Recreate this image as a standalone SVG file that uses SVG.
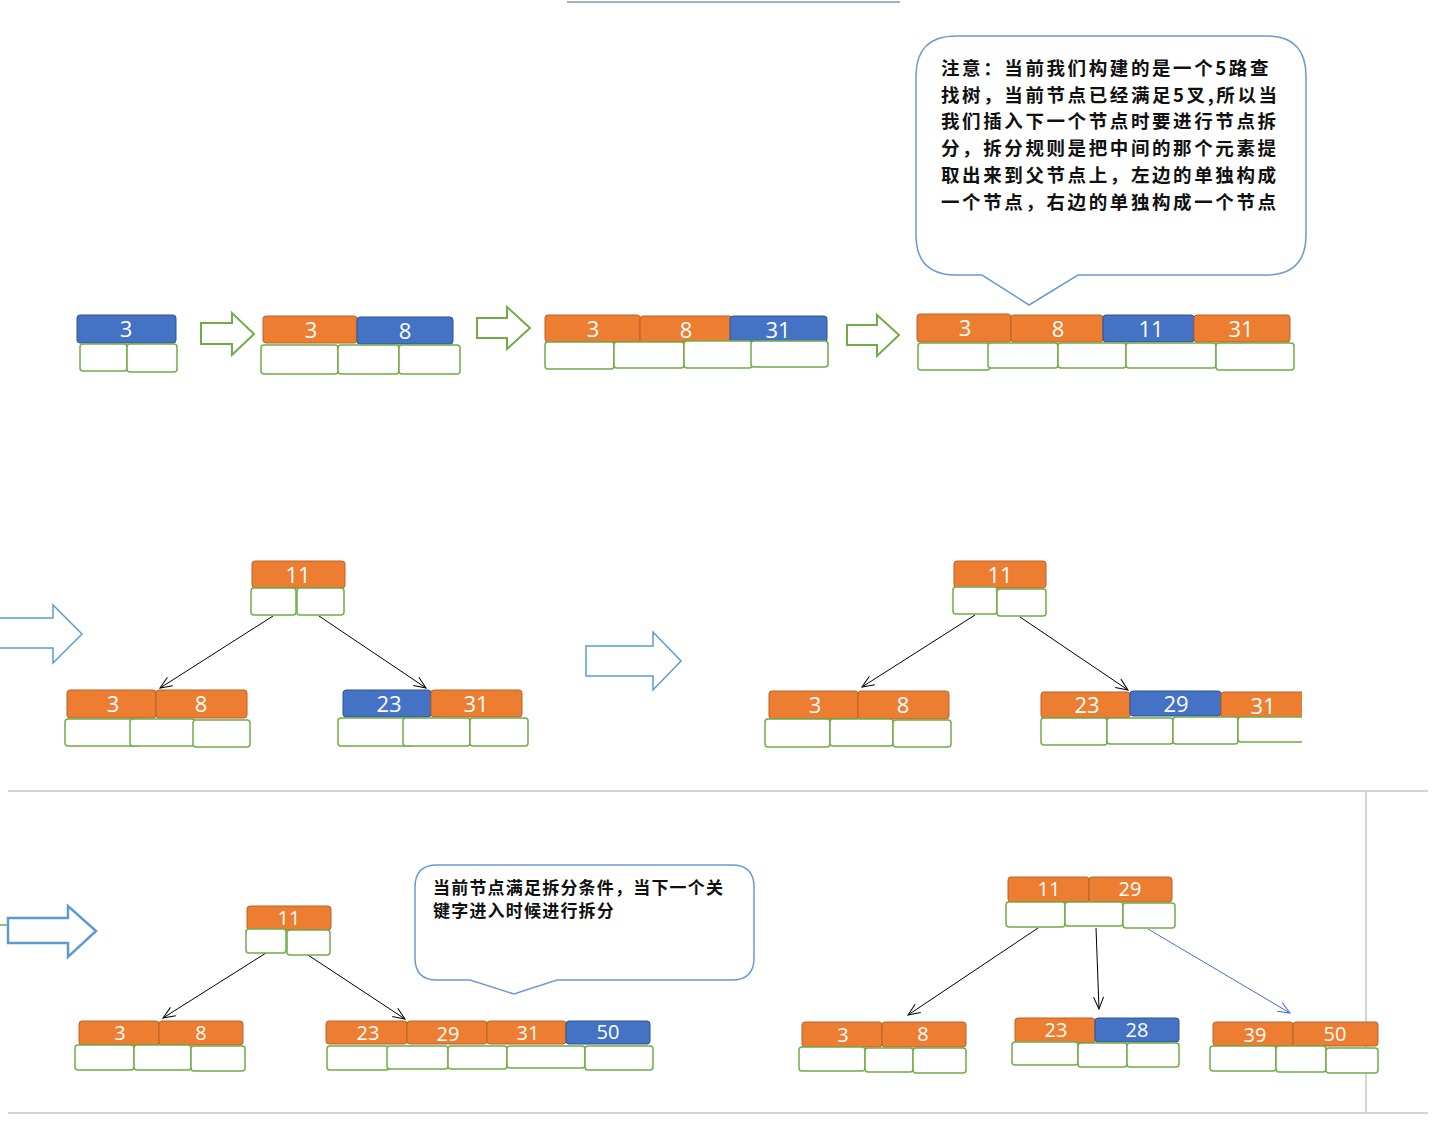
<svg xmlns="http://www.w3.org/2000/svg" width="1436" height="1136" viewBox="0 0 1436 1136">
<defs>
<style>
.ko{fill:#ed7d31;stroke:#b9622b;stroke-width:1}
.kb{fill:#4472c4;stroke:#2f528f;stroke-width:1}
.c{fill:#fff;stroke:#70ad47;stroke-width:1.5}
.t{font-family:"Open Sans","Noto Sans",sans-serif;fill:#fff;text-anchor:middle;font-size:22px}
.t3{font-family:"Open Sans","Noto Sans",sans-serif;fill:#fff;text-anchor:middle;font-size:20px}
.ga{fill:#fff;stroke:#70ad47;stroke-width:2}
.ba{fill:#fff;stroke:#5b9bd5;stroke-width:1.5}
.call{fill:#fff;stroke:#6b9bd2;stroke-width:1.5}
.ct{font-family:"Noto Sans CJK SC","Noto Sans",sans-serif;font-weight:bold;fill:#111}
.sep{stroke:#c6c6c6;stroke-width:1.5;fill:none}
.e{stroke:#000;stroke-width:1;fill:none;marker-end:url(#ab)}
.eb{stroke:#4472c4;stroke-width:1;fill:none;marker-end:url(#au)}
</style>
<marker id="ab" markerUnits="userSpaceOnUse" markerWidth="16" markerHeight="12" refX="13" refY="6" orient="auto" viewBox="0 0 16 12"><path d="M1,1 L13,6 L1,11" fill="none" stroke="#000" stroke-width="1"/></marker>
<marker id="au" markerUnits="userSpaceOnUse" markerWidth="16" markerHeight="12" refX="13" refY="6" orient="auto" viewBox="0 0 16 12"><path d="M1,1 L13,6 L1,11" fill="none" stroke="#4472c4" stroke-width="1"/></marker>
<clipPath id="cut"><rect x="1000" y="680" width="302" height="80"/></clipPath>
</defs>
<rect x="0" y="0" width="1436" height="1136" fill="#fff"/>

<g id="decor">
<line x1="567" y1="2" x2="900" y2="2" stroke="#8497b0" stroke-width="1.5"/>
<line class="sep" x1="8" y1="791" x2="1428" y2="791"/>
<line class="sep" x1="1366" y1="791" x2="1366" y2="1113"/>
<line class="sep" x1="8" y1="1113" x2="1428" y2="1113"/>
</g>

<g id="step-arrows">
<polygon class="ga" points="201,323 232,323 232,313 254,334 232,355 232,344 201,344"/>
<polygon class="ga" points="477,318 507,318 507,307 530,328 507,349 507,338 477,338"/>
<polygon class="ga" points="847,325 877,325 877,315 899,335 877,356 877,345 847,345"/>
<polyline class="ba" points="0,618 53,618 53,605 82,634 53,663 53,648 0,648"/>
<polygon class="ba" points="586,646 653,646 653,632 681,661 653,690 653,676 586,676"/>
<line x1="0" y1="925" x2="8" y2="925" stroke="#70ad47" stroke-width="1.5"/>
<polygon points="8,918 68,918 68,906 96,931 68,957 68,943 8,943" fill="#fff" stroke="#5b9bd5" stroke-width="2.5"/>
</g>

<g id="callout-1">
<path class="call" d="M956,36 H1266 Q1306,36 1306,76 V235 Q1306,275 1266,275 H1078 L1029,305 L982,275 H956 Q916,275 916,235 V76 Q916,36 956,36 Z"/>
<g class="ct" font-size="18.5" letter-spacing="2.6">
<text x="941" y="75">注意：当前我们构建的是一个5路查</text>
<text x="941" y="102">找树，当前节点已经满足5叉,所以当</text>
<text x="941" y="128">我们插入下一个节点时要进行节点拆</text>
<text x="941" y="155">分，拆分规则是把中间的那个元素提</text>
<text x="941" y="182">取出来到父节点上，左边的单独构成</text>
<text x="941" y="209">一个节点，右边的单独构成一个节点</text>
</g>
</g>

<g id="callout-2">
<path class="call" d="M437,865 H732 Q754,865 754,887 V958 Q754,980 732,980 H557 L514,994 L470,980 H437 Q415,980 415,958 V887 Q415,865 437,865 Z"/>
<g class="ct" font-size="17" letter-spacing="1.2">
<text x="433" y="894">当前节点满足拆分条件，当下一个关</text>
<text x="433" y="917">键字进入时候进行拆分</text>
</g>
</g>

<g id="connectors">
<line class="e" x1="273" y1="616" x2="160" y2="688"/>
<line class="e" x1="319" y1="616" x2="426" y2="688"/>
<line class="e" x1="975" y1="615" x2="862" y2="687"/>
<line class="e" x1="1020" y1="617" x2="1128" y2="690"/>
<line class="e" x1="266" y1="953" x2="163" y2="1018"/>
<line class="e" x1="308" y1="955" x2="405" y2="1019"/>
<line class="e" x1="1038" y1="928" x2="908" y2="1015"/>
<line class="e" x1="1096" y1="928" x2="1099" y2="1009"/>
<line class="eb" x1="1148" y1="929" x2="1290" y2="1013"/>
</g>

<g id="n1">
<rect class="kb" x="77" y="315" width="99" height="28" rx="3"/>
<text class="t" x="126" y="337">3</text>
<rect class="c" x="80" y="344" width="47" height="27" rx="3"/>
<rect class="c" x="127" y="344" width="50" height="28" rx="3"/>
</g>

<g id="n2">
<rect class="ko" x="263" y="316" width="94" height="27" rx="3"/>
<rect class="kb" x="357" y="317" width="96" height="27" rx="3"/>
<text class="t" x="311" y="338">3</text>
<text class="t" x="405" y="339">8</text>
<rect class="c" x="261" y="345" width="77" height="29" rx="3"/>
<rect class="c" x="338" y="345" width="61" height="29" rx="3"/>
<rect class="c" x="399" y="345" width="61" height="29" rx="3"/>
</g>

<g id="n3">
<rect class="ko" x="545" y="315" width="95" height="27" rx="3"/>
<rect class="ko" x="640" y="316" width="93" height="26" rx="3"/>
<rect class="kb" x="730" y="316" width="97" height="26" rx="3"/>
<text class="t" x="593" y="337">3</text>
<text class="t" x="686" y="338">8</text>
<text class="t" x="778" y="338">31</text>
<rect class="c" x="545" y="342" width="69" height="27" rx="3"/>
<rect class="c" x="614" y="342" width="70" height="26" rx="3"/>
<rect class="c" x="684" y="341" width="68" height="27" rx="3"/>
<rect class="c" x="751" y="341" width="77" height="26" rx="3"/>
</g>

<g id="n4">
<rect class="ko" x="917" y="314" width="94" height="28" rx="3"/>
<rect class="ko" x="1011" y="315" width="92" height="27" rx="3"/>
<rect class="kb" x="1103" y="315" width="91" height="27" rx="3"/>
<rect class="ko" x="1194" y="315" width="96" height="27" rx="3"/>
<text class="t" x="965" y="336">3</text>
<text class="t" x="1058" y="337">8</text>
<text class="t" x="1151" y="337">11</text>
<text class="t" x="1241" y="337">31</text>
<rect class="c" x="918" y="343" width="72" height="27" rx="3"/>
<rect class="c" x="988" y="343" width="70" height="25" rx="3"/>
<rect class="c" x="1058" y="343" width="68" height="25" rx="3"/>
<rect class="c" x="1126" y="343" width="90" height="25" rx="3"/>
<rect class="c" x="1216" y="343" width="78" height="27" rx="3"/>
</g>

<g id="t1-root">
<rect class="ko" x="252" y="561" width="93" height="27" rx="3"/>
<text class="t" x="298" y="583">11</text>
<rect class="c" x="251" y="588" width="45" height="27" rx="3"/>
<rect class="c" x="297" y="588" width="47" height="27" rx="3"/>
</g>
<g id="t1-left">
<rect class="ko" x="67" y="690" width="89" height="28" rx="3"/>
<rect class="ko" x="156" y="690" width="91" height="28" rx="3"/>
<text class="t" x="113" y="712">3</text>
<text class="t" x="201" y="712">8</text>
<rect class="c" x="65" y="719" width="75" height="27" rx="3"/>
<rect class="c" x="130" y="719" width="65" height="27" rx="3"/>
<rect class="c" x="193" y="720" width="57" height="27" rx="3"/>
</g>
<g id="t1-right">
<rect class="kb" x="343" y="690" width="88" height="27" rx="3"/>
<rect class="ko" x="431" y="690" width="91" height="27" rx="3"/>
<text class="t" x="389" y="712">23</text>
<text class="t" x="476" y="712">31</text>
<rect class="c" x="338" y="718" width="75" height="28" rx="3"/>
<rect class="c" x="403" y="718" width="67" height="28" rx="3"/>
<rect class="c" x="470" y="718" width="58" height="28" rx="3"/>
</g>

<g id="t2-root">
<rect class="ko" x="954" y="561" width="92" height="27" rx="3"/>
<text class="t" x="1000" y="583">11</text>
<rect class="c" x="953" y="587" width="44" height="27" rx="3"/>
<rect class="c" x="997" y="589" width="49" height="27" rx="3"/>
</g>
<g id="t2-left">
<rect class="ko" x="769" y="691" width="89" height="28" rx="3"/>
<rect class="ko" x="858" y="691" width="91" height="28" rx="3"/>
<text class="t" x="815" y="713">3</text>
<text class="t" x="903" y="713">8</text>
<rect class="c" x="765" y="719" width="65" height="28" rx="3"/>
<rect class="c" x="830" y="719" width="63" height="27" rx="3"/>
<rect class="c" x="893" y="720" width="58" height="27" rx="3"/>
</g>
<g id="t2-right" clip-path="url(#cut)">
<rect class="ko" x="1041" y="692" width="89" height="26" rx="3"/>
<rect class="kb" x="1130" y="691" width="91" height="25" rx="3"/>
<rect class="ko" x="1221" y="692" width="90" height="26" rx="3"/>
<text class="t" x="1087" y="713">23</text>
<text class="t" x="1176" y="712">29</text>
<text class="t" x="1263" y="714">31</text>
<rect class="c" x="1041" y="718" width="66" height="27" rx="3"/>
<rect class="c" x="1107" y="718" width="66" height="26" rx="3"/>
<rect class="c" x="1173" y="717" width="65" height="27" rx="3"/>
<rect class="c" x="1238" y="717" width="75" height="25" rx="3"/>
</g>

<g id="t3-root">
<rect class="ko" x="247" y="906" width="84" height="24" rx="3"/>
<text class="t3" x="289" y="925">11</text>
<rect class="c" x="246" y="929" width="40" height="24" rx="3"/>
<rect class="c" x="287" y="930" width="43" height="25" rx="3"/>
</g>
<g id="t3-left">
<rect class="ko" x="79" y="1021" width="80" height="24" rx="3"/>
<rect class="ko" x="159" y="1021" width="84" height="24" rx="3"/>
<text class="t3" x="120" y="1040">3</text>
<text class="t3" x="201" y="1040">8</text>
<rect class="c" x="75" y="1045" width="59" height="25" rx="3"/>
<rect class="c" x="134" y="1045" width="57" height="25" rx="3"/>
<rect class="c" x="191" y="1046" width="54" height="25" rx="3"/>
</g>
<g id="t3-right">
<rect class="ko" x="326" y="1021" width="81" height="23" rx="3"/>
<rect class="ko" x="407" y="1021" width="80" height="23" rx="3"/>
<rect class="ko" x="487" y="1021" width="79" height="23" rx="3"/>
<rect class="kb" x="566" y="1021" width="84" height="23" rx="3"/>
<text class="t3" x="368" y="1040">23</text>
<text class="t3" x="448" y="1041">29</text>
<text class="t3" x="528" y="1040">31</text>
<text class="t3" x="608" y="1039">50</text>
<rect class="c" x="327" y="1046" width="62" height="24" rx="3"/>
<rect class="c" x="387" y="1046" width="61" height="23" rx="3"/>
<rect class="c" x="448" y="1046" width="59" height="23" rx="3"/>
<rect class="c" x="507" y="1046" width="78" height="22" rx="3"/>
<rect class="c" x="585" y="1046" width="68" height="24" rx="3"/>
</g>

<g id="t4-root">
<rect class="ko" x="1008" y="877" width="81" height="25" rx="3"/>
<rect class="ko" x="1089" y="877" width="83" height="25" rx="3"/>
<text class="t3" x="1049" y="896">11</text>
<text class="t3" x="1130" y="896">29</text>
<rect class="c" x="1006" y="902" width="59" height="25" rx="3"/>
<rect class="c" x="1065" y="902" width="58" height="24" rx="3"/>
<rect class="c" x="1123" y="903" width="52" height="25" rx="3"/>
</g>
<g id="t4-left">
<rect class="ko" x="802" y="1022" width="80" height="25" rx="3"/>
<rect class="ko" x="882" y="1022" width="84" height="25" rx="3"/>
<text class="t3" x="843" y="1042">3</text>
<text class="t3" x="923" y="1041">8</text>
<rect class="c" x="799" y="1047" width="66" height="24" rx="3"/>
<rect class="c" x="865" y="1048" width="48" height="24" rx="3"/>
<rect class="c" x="913" y="1048" width="53" height="25" rx="3"/>
</g>
<g id="t4-mid">
<rect class="ko" x="1015" y="1018" width="80" height="25" rx="3"/>
<rect class="kb" x="1095" y="1018" width="84" height="24" rx="3"/>
<text class="t3" x="1056" y="1037">23</text>
<text class="t3" x="1137" y="1037">28</text>
<rect class="c" x="1012" y="1042" width="66" height="23" rx="3"/>
<rect class="c" x="1078" y="1043" width="49" height="24" rx="3"/>
<rect class="c" x="1127" y="1043" width="52" height="24" rx="3"/>
</g>
<g id="t4-right">
<rect class="ko" x="1213" y="1022" width="80" height="24" rx="3"/>
<rect class="ko" x="1293" y="1022" width="85" height="24" rx="3"/>
<text class="t3" x="1255" y="1042">39</text>
<text class="t3" x="1335" y="1041">50</text>
<rect class="c" x="1210" y="1046" width="66" height="25" rx="3"/>
<rect class="c" x="1276" y="1046" width="50" height="26" rx="3"/>
<rect class="c" x="1326" y="1048" width="52" height="25" rx="3"/>
</g>
</svg>
